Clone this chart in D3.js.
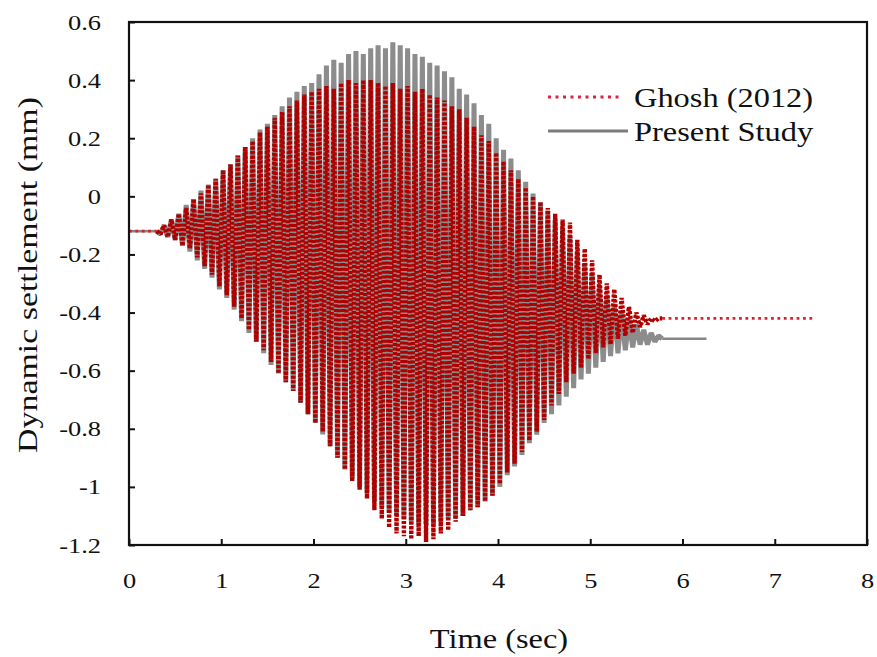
<!DOCTYPE html>
<html>
<head>
<meta charset="utf-8">
<script src="https://cdn.jsdelivr.net/npm/d3@7"></script>
<style>
  body { margin: 0; background: #fff; }
</style>
</head>
<body>
<div id="chart"></div>
<script>
// shared sample times (sec)
const time = [0, 0.30,0.34,0.38,0.42,0.46,0.50,0.54,0.58,0.62,0.66,0.70,0.74,0.78,0.82,0.86,0.90,0.94,0.98,1.02,1.06,1.10,1.14,1.18,1.22,1.26,
  1.30,1.34,1.38,1.42,1.46,1.50,1.54,1.58,1.62,1.66,1.70,1.74,1.78,1.82,1.86,1.90,1.94,1.98,2.02,2.06,2.10,2.14,2.18,2.22,2.26,
  2.30,2.34,2.38,2.42,2.46,2.50,2.54,2.58,2.62,2.66,2.70,2.74,2.78,2.82,2.86,2.90,2.94,2.98,3.02,3.06,3.10,3.14,3.18,3.22,3.26,
  3.30,3.34,3.38,3.42,3.46,3.50,3.54,3.58,3.62,3.66,3.70,3.74,3.78,3.82,3.86,3.90,3.94,3.98,4.02,4.06,4.10,4.14,4.18,4.22,4.26,
  4.30,4.34,4.38,4.42,4.46,4.50,4.54,4.58,4.62,4.66,4.70,4.74,4.78,4.82,4.86,4.90,4.94,4.98,5.02,5.06,5.10,5.14,5.18,5.22,5.26,
  5.30,5.34,5.38,5.42,5.46,5.50,5.54,5.58,5.62,5.66,5.70,5.74,5.78];

// Ghosh (2012), mm
const ghosh = [-0.12, -0.12,-0.13,-0.10,-0.14,-0.08,-0.15,-0.06,-0.17,-0.04,-0.18,-0.01,-0.21,0.01,-0.24,0.04,-0.27,0.06,-0.31,0.09,-0.34,0.11,-0.38,0.14,-0.42,0.17,
  -0.46,0.19,-0.50,0.22,-0.53,0.24,-0.57,0.27,-0.61,0.29,-0.64,0.31,-0.67,0.33,-0.71,0.35,-0.75,0.36,-0.78,0.37,-0.81,0.38,-0.86,0.37,-0.90,
  0.39,-0.94,0.40,-0.98,0.39,-1.01,0.40,-1.04,0.40,-1.08,0.39,-1.11,0.38,-1.14,0.39,-1.16,0.37,-1.17,0.38,-1.18,0.36,-1.17,0.37,-1.19,0.35,
  -1.18,0.34,-1.16,0.33,-1.15,0.31,-1.12,0.30,-1.10,0.27,-1.08,0.24,-1.07,0.21,-1.05,0.19,-1.03,0.15,-0.99,0.12,-0.95,0.09,-0.92,0.06,-0.88,
  0.03,-0.84,0.00,-0.81,-0.02,-0.77,-0.04,-0.72,-0.06,-0.68,-0.08,-0.64,-0.09,-0.61,-0.15,-0.59,-0.18,-0.56,-0.22,-0.54,-0.27,-0.52,-0.30,-0.51,-0.32,
  -0.49,-0.35,-0.48,-0.38,-0.47,-0.40,-0.45,-0.41,-0.44,-0.42,-0.43,-0.42,-0.42];
const ghoshTailT = [7.42];
const ghoshTailV = [-0.42];

// Present Study, mm
const present = [-0.12, -0.12,-0.13,-0.10,-0.14,-0.08,-0.15,-0.06,-0.17,-0.03,-0.19,-0.01,-0.22,0.02,-0.25,0.04,-0.28,0.06,-0.32,0.09,-0.35,0.11,-0.39,0.14,-0.43,0.17,
  -0.47,0.20,-0.50,0.23,-0.54,0.25,-0.58,0.28,-0.61,0.31,-0.64,0.34,-0.67,0.36,-0.71,0.38,-0.75,0.39,-0.78,0.42,-0.82,0.45,-0.86,0.47,-0.90,
  0.46,-0.94,0.49,-0.97,0.50,-1.00,0.49,-1.02,0.51,-1.05,0.52,-1.07,0.51,-1.09,0.53,-1.10,0.52,-1.11,0.51,-1.12,0.49,-1.13,0.48,-1.13,0.46,
  -1.13,0.45,-1.12,0.43,-1.11,0.41,-1.11,0.37,-1.10,0.35,-1.08,0.32,-1.07,0.28,-1.05,0.25,-1.03,0.20,-1.00,0.16,-0.96,0.13,-0.93,0.09,-0.89,
  0.05,-0.85,0.01,-0.82,-0.02,-0.78,-0.05,-0.75,-0.08,-0.72,-0.11,-0.69,-0.14,-0.66,-0.19,-0.63,-0.23,-0.61,-0.27,-0.59,-0.31,-0.57,-0.34,-0.55,-0.37,
  -0.54,-0.40,-0.53,-0.42,-0.52,-0.44,-0.51,-0.46,-0.51,-0.47,-0.50,-0.48,-0.49];
const presentTailT = [6.26];
const presentTailV = [-0.49];

const xTicks = [0, 1, 2, 3, 4, 5, 6, 7, 8];
const yTicks = [0.6, 0.4, 0.2, 0, -0.2, -0.4, -0.6, -0.8, -1, -1.2];

const serif = '"Liberation Serif", "Times New Roman", serif';
const stretch = 1.2; // text in the picture is drawn a bit wide

const width = 877, height = 657;
const margin = {top: 22, right: 10, bottom: 112, left: 129};
const w = 867 - margin.left, h = 545 - margin.top;

const svg = d3.select("#chart").append("svg")
    .attr("width", width)
    .attr("height", height)
    .attr("font-family", serif);

const g = svg.append("g")
    .attr("transform", `translate(${margin.left},${margin.top})`);

const x = d3.scaleLinear().domain([0, 8]).range([0, w]);
const y = d3.scaleLinear().domain([-1.2, 0.6]).range([h, 0]);

const toPts = (vals, tailT, tailV) =>
    vals.map((v, i) => [time[i], v]).concat(tailT.map((t, i) => [t, tailV[i]]));

const line = d3.line().x(d => x(d[0])).y(d => y(d[1]));

// each series: flat lead-in and settled tail drawn thin, oscillating part drawn heavy
function drawSeries(vals, tailT, tailV, heavy, thin) {
  const pts = toPts(vals, tailT, tailV);
  const n = vals.length;
  [pts.slice(0, 2), pts.slice(n - 1)].forEach(seg => {
    g.append("path").datum(seg).attr("d", line).attr("fill", "none").call(thin);
  });
  g.append("path").datum(pts.slice(1, n)).attr("d", line)
      .attr("fill", "none").attr("stroke-linejoin", "bevel").call(heavy);
}

drawSeries(present, presentTailT, presentTailV,
  p => p.attr("stroke", "#8c8c8c").attr("stroke-width", 5),
  p => p.attr("stroke", "#858585").attr("stroke-width", 2.6));

drawSeries(ghosh, ghoshTailT, ghoshTailV,
  p => p.attr("stroke", "#b00000").attr("stroke-width", 4.4).attr("stroke-dasharray", "3,1.6"),
  p => p.attr("stroke", "#e0202c").attr("stroke-width", 2.8).attr("stroke-dasharray", "2.8,3.6"));

// axes, ticks inward
const xAxis = g.append("g")
    .attr("transform", `translate(0,${h})`)
    .call(d3.axisBottom(x).tickValues(xTicks).tickSize(-6).tickPadding(27).tickFormat(d3.format("d")));
const yAxis = g.append("g")
    .call(d3.axisLeft(y).tickValues(yTicks).tickSize(-6).tickPadding(28).tickFormat(d => d));

[xAxis, yAxis].forEach(a => {
  a.select(".domain").remove();
  a.attr("font-family", serif).attr("font-size", 22);
  a.selectAll("line").attr("stroke", "#111").attr("stroke-width", 2);
  a.selectAll("text")
      .style("font-family", serif)
      .style("font-size", "22px")
      .attr("fill", "#111");
});

g.append("rect")
    .attr("width", w).attr("height", h)
    .attr("fill", "none")
    .attr("stroke", "#111")
    .attr("stroke-width", 2.2);

// axis titles
svg.append("text")
    .attr("x", 499).attr("y", 648)
    .attr("text-anchor", "middle")
    .style("font-size", "27px")
    .attr("fill", "#111")
    .text("Time (sec)");

svg.append("text")
    .attr("transform", "translate(37,275) rotate(-90)")
    .attr("text-anchor", "middle")
    .attr("textLength", 356)
    .attr("lengthAdjust", "spacingAndGlyphs")
    .style("font-size", "28px")
    .attr("fill", "#111")
    .text("Dynamic settlement (mm)");

// legend
const legend = svg.append("g");
legend.append("line")
    .attr("x1", 548).attr("x2", 623).attr("y1", 97).attr("y2", 97)
    .attr("stroke", "#e0203c").attr("stroke-width", 3).attr("stroke-dasharray", "3,4.5");
legend.append("text")
    .attr("x", 634).attr("y", 107)
    .style("font-size", "27px")
    .attr("fill", "#111")
    .text("Ghosh (2012)");
legend.append("line")
    .attr("x1", 548).attr("x2", 628).attr("y1", 131).attr("y2", 131)
    .attr("stroke", "#7c7c7c").attr("stroke-width", 3);
legend.append("text")
    .attr("x", 634).attr("y", 141)
    .style("font-size", "27px")
    .attr("fill", "#111")
    .text("Present Study");

// widen horizontal text to match the picture
svg.selectAll("text").each(function () {
  const t = d3.select(this);
  if ((t.attr("transform") || "").includes("rotate")) return;
  const len = this.getComputedTextLength();
  t.attr("textLength", len * stretch).attr("lengthAdjust", "spacingAndGlyphs");
});
</script>
</body>
</html>
